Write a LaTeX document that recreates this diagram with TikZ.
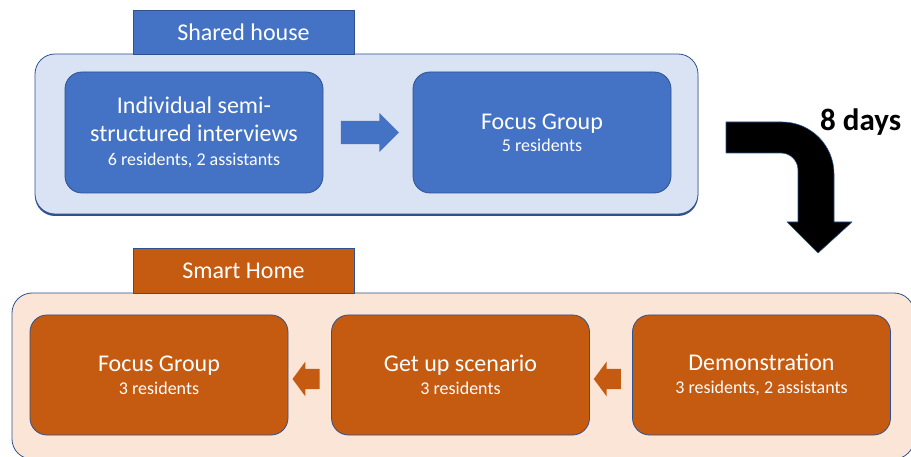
\documentclass[tikz,border=0pt]{standalone}
\usepackage{fontspec}
\setmainfont{Carlito}
\usepackage{tikz}
\usetikzlibrary{calc,shapes.arrows,shadows}
\definecolor{edge}{HTML}{2F528F}
\definecolor{bluefill}{HTML}{4472C4}
\definecolor{bluebg}{HTML}{DAE3F3}
\definecolor{orangefill}{HTML}{C55A11}
\definecolor{orangebg}{HTML}{FBE5D6}
\tikzset{
  panel/.style={draw=edge, line width=0.8pt, rounded corners=20pt},
  tab/.style={
    draw=edge, line width=0.8pt,
    text=white,
    minimum width=221pt, minimum height=44pt,
    font=\fontsize{24}{28}\selectfont
  },
  card/.style={
    draw=edge, line width=0.8pt, rounded corners=17pt,
    text=white, align=center,
    minimum width=258pt, minimum height=121pt,
    font=\fontsize{24}{28}\selectfont
  },
  flow/.style={single arrow, draw=none, inner xsep=0pt},
  bent/.style={fill=black, draw=edge, line width=0.6pt, line join=round}
}
\newcommand{\subsize}{\fontsize{18}{22}\selectfont}

\begin{document}
\begin{tikzpicture}[x=1pt,y=-1pt]
  \useasboundingbox (0,0) rectangle (911,457);
  \clip (0,0) rectangle (911,457);

  % shared house
  \node[panel, fill=bluebg, minimum width=663pt, minimum height=160pt,
    drop shadow={shadow xshift=0pt, shadow yshift=-2pt, fill=edge, opacity=1}]
    (house) at (366.5,134) {};
  \node[tab, fill=bluefill] (tabA) at (243.5,32) {Shared house};
  \node[card, fill=bluefill] (intv) at (194,132.5)
    {Individual semi-\\structured interviews\\[-4pt]{\subsize 6 residents, 2 assistants}};
  \node[card, fill=bluefill] (fgA) at (542,132.5)
    {Focus Group\\[-6pt]{\subsize 5 residents}};
  \node[flow, fill=bluefill, minimum height=58pt, minimum width=39pt, inner ysep=10.5pt,
    xshift=-4pt] (arrA) at ($(intv.east)!0.5!(fgA.west)$) {};

  % 8 days
  \draw[bent] (726,122) -- (782,122) arc[start angle=90, end angle=0, radius=52pt]
    -- (834,222) -- (852,222) -- (818,253) -- (787,222) -- (798,222)
    -- (798,170) arc[start angle=0, end angle=90, radius=17pt] -- (726,153) -- cycle;
  \node[anchor=base west, inner sep=0pt, font=\fontsize{31}{36}\selectfont\bfseries]
    (days) at (820,131) {8 days};

  % smart home
  \node[panel, fill=orangebg, minimum width=902pt, minimum height=166pt]
    (home) at (463,376) {};
  \node[tab, fill=orangefill, minimum height=45pt] (tabB) at (243.5,270.5) {Smart Home};
  \foreach \name/\x/\title/\who in {fgB/159/Focus Group/3 residents,
      getup/460.5/Get up scenario/3 residents,
      demo/761.5/Demonstration/{3 residents, 2 assistants}}{
    \node[card, fill=orangefill, minimum height=120pt] (\name) at (\x,375)
      {\title\\[-5pt]{\subsize \who}};
  }
  \node[flow, fill=orangefill, shape border rotate=180, single arrow tip angle=107,
    minimum height=27pt, minimum width=35pt, inner ysep=9.5pt, yshift=-4pt]
    (arrB) at ($(fgB.east)!0.5!(getup.west)$) {};
  \node[flow, fill=orangefill, shape border rotate=180, single arrow tip angle=107,
    minimum height=27pt, minimum width=35pt, inner ysep=9.5pt, yshift=-4pt]
    (arrC) at ($(getup.east)!0.5!(demo.west)$) {};
\end{tikzpicture}
\end{document}
